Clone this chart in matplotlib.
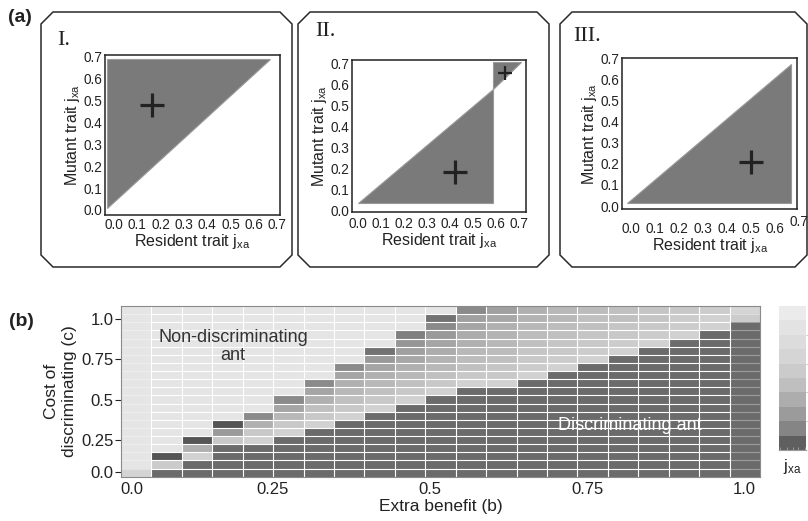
import numpy as np
import matplotlib
matplotlib.use("Agg")
import matplotlib.pyplot as plt
from matplotlib.colors import LinearSegmentedColormap, ListedColormap
from matplotlib.patches import Polygon

plt.rcParams['font.family'] = ['Liberation Sans', 'DejaVu Sans']
plt.rcParams['mathtext.fontset'] = 'custom'
plt.rcParams['mathtext.rm'] = 'Liberation Sans'
plt.rcParams['mathtext.it'] = 'Liberation Sans:italic'
plt.rcParams['mathtext.bf'] = 'Liberation Sans:bold'

# ---------------------------------------------------------------- data (a)
pip_ticks = [0.0, 0.1, 0.2, 0.3, 0.4, 0.5, 0.6, 0.7]
pip_tick_labels = ['0.0', '0.1', '0.2', '0.3', '0.4', '0.5', '0.6', '0.7']
panel_titles = ['I.', 'II.', 'III.']
pip_xlabel = r'Resident trait $\mathregular{j_{xa}}$'
pip_ylabel = r'Mutant trait $\mathregular{j_{xa}}$'

# grey = mutant can invade (vertices)
pip1_x = [-0.03, -0.03, 0.67]
pip1_y = [0.01, 0.69, 0.69]
pip1_cross_x, pip1_cross_y = [0.165], [0.48]

pip2_low_x = [0.0, 0.59, 0.59]
pip2_low_y = [0.035, 0.035, 0.58]
pip2_up_x = [0.59, 0.59, 0.71]
pip2_up_y = [0.58, 0.705, 0.705]
pip2_cross_x, pip2_cross_y = [0.425], [0.185]
pip2_small_cross_x, pip2_small_cross_y = [0.64], [0.655]

pip3_x = [-0.014, 0.667, 0.667]
pip3_y = [0.013, 0.013, 0.675]
pip3_cross_x, pip3_cross_y = [0.50], [0.21]

# ---------------------------------------------------------------- data (b)
L = 0.98   # non-discriminating ant (light)
D = 0.15   # discriminating ant (dark)
# rows from top (c = 1.0) to bottom (c = 0.0); columns b = 0.0 ... 1.0
jxa_top_down = [
    [L]*11 + [0.36, 0.51, 0.62, 0.67, 0.70, 0.73, 0.76, 0.78, 0.81, 0.87],
    [L]*10 + [0.20, 0.51, 0.56, 0.64, 0.67, 0.73, 0.73, 0.76, 0.81, 0.84, 0.81],
    [L]*10 + [0.36, 0.54, 0.62, 0.67, 0.70, 0.73, 0.76, 0.78, 0.81, 0.84, D],
    [L]*9 + [0.29, 0.47, 0.59, 0.64, 0.70, 0.73, 0.76, 0.78, 0.81, 0.84, D, D],
    [L]*9 + [0.44, 0.54, 0.62, 0.67, 0.73, 0.76, 0.78, 0.81, 0.84, D, D, D],
    [L]*8 + [0.20, 0.51, 0.59, 0.67, 0.70, 0.76, 0.78, 0.81, 0.84, D, D, D, D],
    [L]*8 + [0.47, 0.56, 0.64, 0.70, 0.73, 0.78, 0.81, 0.84] + [D]*5,
    [L]*7 + [0.36, 0.54, 0.62, 0.67, 0.73, 0.76, 0.81, 0.84] + [D]*6,
    [L]*7 + [0.54, 0.62, 0.67, 0.73, 0.78, 0.78, 0.84] + [D]*7,
    [L]*6 + [0.36, 0.62, 0.67, 0.73, 0.78, 0.84, 0.84] + [D]*8,
    [L]*6 + [0.54, 0.67, 0.73, 0.78, 0.84] + [D]*10,
    [L]*5 + [0.36, 0.62, 0.73, 0.78, 0.84] + [D]*11,
    [L]*5 + [0.54, 0.73, 0.78, 0.84] + [D]*12,
    [L]*4 + [0.36, 0.67, 0.78, 0.84] + [D]*13,
    [L]*3 + [0.00, 0.62, 0.78, 0.84] + [D]*14,
    [L]*3 + [0.47, 0.78, 0.84] + [D]*15,
    [L]*2 + [0.00, 0.78, 0.84] + [D]*16,
    [L]*2 + [0.62] + [D]*18,
    [L] + [0.00, 0.84] + [D]*18,
    [L] + [0.80] + [D]*19,
    [0.86] + [D]*20,
]
benefit_tick_labels = ['0.0', '0.25', '0.5', '0.75', '1.0']
benefit_tick_values = [0.026, 0.25, 0.5, 0.75, 1.0]   # reference draws 0.0 just inside the frame
cost_tick_labels = ['0.0', '0.25', '0.5', '0.75', '1.0']
cost_tick_values = [0.054, 0.25, 0.5, 0.75, 1.0]
n_colorbar_levels = 10

# ---------------------------------------------------------------- figure
W, H = 808, 521
fig = plt.figure(figsize=(W / 100, H / 100), dpi=100)


def fx(px):
    return px / W


def fy(py):
    return 1 - py / H


def add_px_axes(l, t, r, b):
    return fig.add_axes([fx(l), fy(b), (r - l) / W, (b - t) / H])


INK = '#222222'
GREY = '#7a7a7a'
TICK_A = 9.8

# ---- framed boxes of panel (a)
ch = 12
for (l, t, r, b) in [(41, 12, 292, 267), (298, 12, 549, 267), (560, 12, 807, 267)]:
    pts = [(l, t + ch), (l + ch, t), (r - ch, t), (r, t + ch), (r, b - ch),
           (r - ch, b), (l + ch, b), (l, b - ch)]
    fig.add_artist(Polygon([(fx(x), fy(y)) for x, y in pts], closed=True, fill=False,
                           edgecolor='#2a2a2a', linewidth=1.1,
                           transform=fig.transFigure, zorder=0))

panel_specs = [
    dict(box=(105, 55, 280, 215), xlim=(-0.0386, 0.7124), ylim=(-0.0229, 0.709), xpad=2),
    dict(box=(352.3, 60, 526, 211.7), xlim=(-0.023, 0.732), ylim=(-0.0047, 0.7156), xpad=4),
    dict(box=(622.3, 58.3, 797.3, 209.3), xlim=(-0.035, 0.694), ylim=(-0.0156, 0.701), xpad=9),
]
title_pos = [(57, 45), (315, 36), (573, 41)]

pip_axes = []
for i, spec in enumerate(panel_specs):
    ax = add_px_axes(*spec['box'])
    ax.set_xlim(*spec['xlim'])
    ax.set_ylim(*spec['ylim'])
    ax.set_xticks(pip_ticks[:-1] if i == 2 else pip_ticks)
    ax.set_xticklabels(pip_tick_labels[:-1] if i == 2 else pip_tick_labels)
    ax.set_yticks(pip_ticks)
    ax.set_yticklabels(pip_tick_labels)
    ax.tick_params(axis='both', length=0, labelsize=TICK_A, colors=INK)
    ax.tick_params(axis='x', pad=spec['xpad'])
    ax.tick_params(axis='y', pad=2)
    for s in ax.spines.values():
        s.set_linewidth(1.1)
        s.set_color(INK)
    ax.set_xlabel(pip_xlabel, fontsize=11.5, color=INK, labelpad=0)
    ax.set_ylabel(pip_ylabel, fontsize=11.5, color=INK, labelpad=1)
    pip_axes.append(ax)
    fig.text(fx(title_pos[i][0]), fy(title_pos[i][1]), panel_titles[i],
             family='Liberation Serif', fontsize=16, color=INK, va='baseline')

ax1, ax2, ax3 = pip_axes
ax1.fill(pip1_x, pip1_y, color=GREY, lw=0.8, ec='#9a9a9a')
ax1.plot(pip1_cross_x, pip1_cross_y, marker='+', ms=17, mew=2.3, color=INK, ls='none')

ax2.fill(pip2_low_x, pip2_low_y, color=GREY, lw=0.8, ec='#9a9a9a')
ax2.fill(pip2_up_x, pip2_up_y, color=GREY, lw=0.8, ec='#9a9a9a')
ax2.plot(pip2_cross_x, pip2_cross_y, marker='+', ms=17, mew=2.3, color=INK, ls='none')
ax2.plot(pip2_small_cross_x, pip2_small_cross_y, marker='+', ms=10, mew=1.6, color=INK, ls='none')

ax3.fill(pip3_x, pip3_y, color=GREY, lw=0.8, ec='#9a9a9a')
ax3.plot(pip3_cross_x, pip3_cross_y, marker='+', ms=17, mew=2.3, color=INK, ls='none')
ax3.text(pip_ticks[-1], -0.085, pip_tick_labels[-1], transform=ax3.get_xaxis_transform(),
         ha='center', va='center', fontsize=TICK_A, color=INK, clip_on=False)

# ---- panel (b): heat map
axb = add_px_axes(121, 306, 760, 476.7)
xlim_b = (0.0084, 1.0247)
ylim_c = (0.0247, 1.0804)
Z = np.flipud(np.array(jxa_top_down))
n_c, n_b = Z.shape
b_edges = np.linspace(xlim_b[0], xlim_b[1], n_b + 1)
c_edges = np.linspace(ylim_c[0], ylim_c[1], n_c + 1)
cmap_b = LinearSegmentedColormap.from_list('greys_b', ['#555555', '#e8e8e8'])
axb.pcolormesh(b_edges, c_edges, Z, cmap=cmap_b, vmin=0, vmax=1, shading='flat')
axb.vlines(b_edges[1:-1], ylim_c[0], ylim_c[1], color='white', lw=0.8)
axb.hlines(c_edges[1:-1], b_edges[1], b_edges[-2], color='white', lw=0.8)
axb.hlines(c_edges[1:-1], b_edges[0], b_edges[1], color='white', lw=0.8, alpha=0.35)
axb.hlines(c_edges[1:-1], b_edges[-2], b_edges[-1], color='white', lw=0.8, alpha=0.35)
axb.set_xlim(*xlim_b)
axb.set_ylim(*ylim_c)
axb.set_xticks(benefit_tick_values)
axb.set_xticklabels(benefit_tick_labels)
axb.set_yticks(cost_tick_values)
axb.set_yticklabels(cost_tick_labels)
axb.tick_params(axis='x', length=0, pad=4, labelsize=12, colors=INK)
axb.tick_params(axis='y', length=4, width=0.8, pad=1.5, labelsize=12, colors=INK)
for s in axb.spines.values():
    s.set_color('#8a8a8a')
    s.set_linewidth(0.8)
axb.set_xlabel('Extra benefit (b)', fontsize=12.5, color=INK, labelpad=1)
axb.set_ylabel('Cost of\ndiscriminating (c)', fontsize=12.5, color=INK, labelpad=3,
               linespacing=1.25)
fig.text(fx(233), fy(346.5), 'Non-discriminating\nant', ha='center', va='center',
         fontsize=13, color='#333333', linespacing=1.15)
fig.text(fx(630), fy(425), 'Discriminating ant', ha='center', va='center',
         fontsize=13, color='white')

# ---- colour key
axc = add_px_axes(779, 306, 806, 450)
key_colors = ['#5f5f5f', '#858585', '#9b9b9b', '#adadad', '#bfbfbf',
              '#cbcbcb', '#d5d5d5', '#dcdcdc', '#e3e3e3', '#ebebeb']
axc.imshow(np.arange(n_colorbar_levels).reshape(-1, 1), cmap=ListedColormap(key_colors),
           origin='lower', aspect='auto', extent=(0, 1, 0, n_colorbar_levels))
axc.set_xlim(0, 1)
axc.set_ylim(0, n_colorbar_levels)
for name, s in axc.spines.items():
    s.set_visible(name == 'bottom')
axc.spines['bottom'].set_color('#999999')
axc.spines['bottom'].set_linewidth(0.8)
axc.set_xticks([0.05, 0.28, 0.5, 0.72, 0.95])
axc.set_xticklabels([])
axc.tick_params(axis='x', direction='in', length=2.5, width=0.7, color='#999999')
axc.yaxis.tick_right()
axc.set_yticks([2, 4, 6, 8])
axc.set_yticklabels([])
axc.tick_params(axis='y', direction='out', length=1.5, width=0.6, color='#bbbbbb')
fig.text(fx(792), fy(466), r'$\mathregular{j_{xa}}$', ha='center', va='center',
         fontsize=12, color=INK)

# ---- panel letters
fig.text(fx(20), fy(17), '(a)', ha='center', va='center', fontsize=14, fontweight='bold', color=INK)
fig.text(fx(21), fy(321), '(b)', ha='center', va='center', fontsize=14, fontweight='bold', color=INK)

fig.savefig('out.png', dpi=100)
